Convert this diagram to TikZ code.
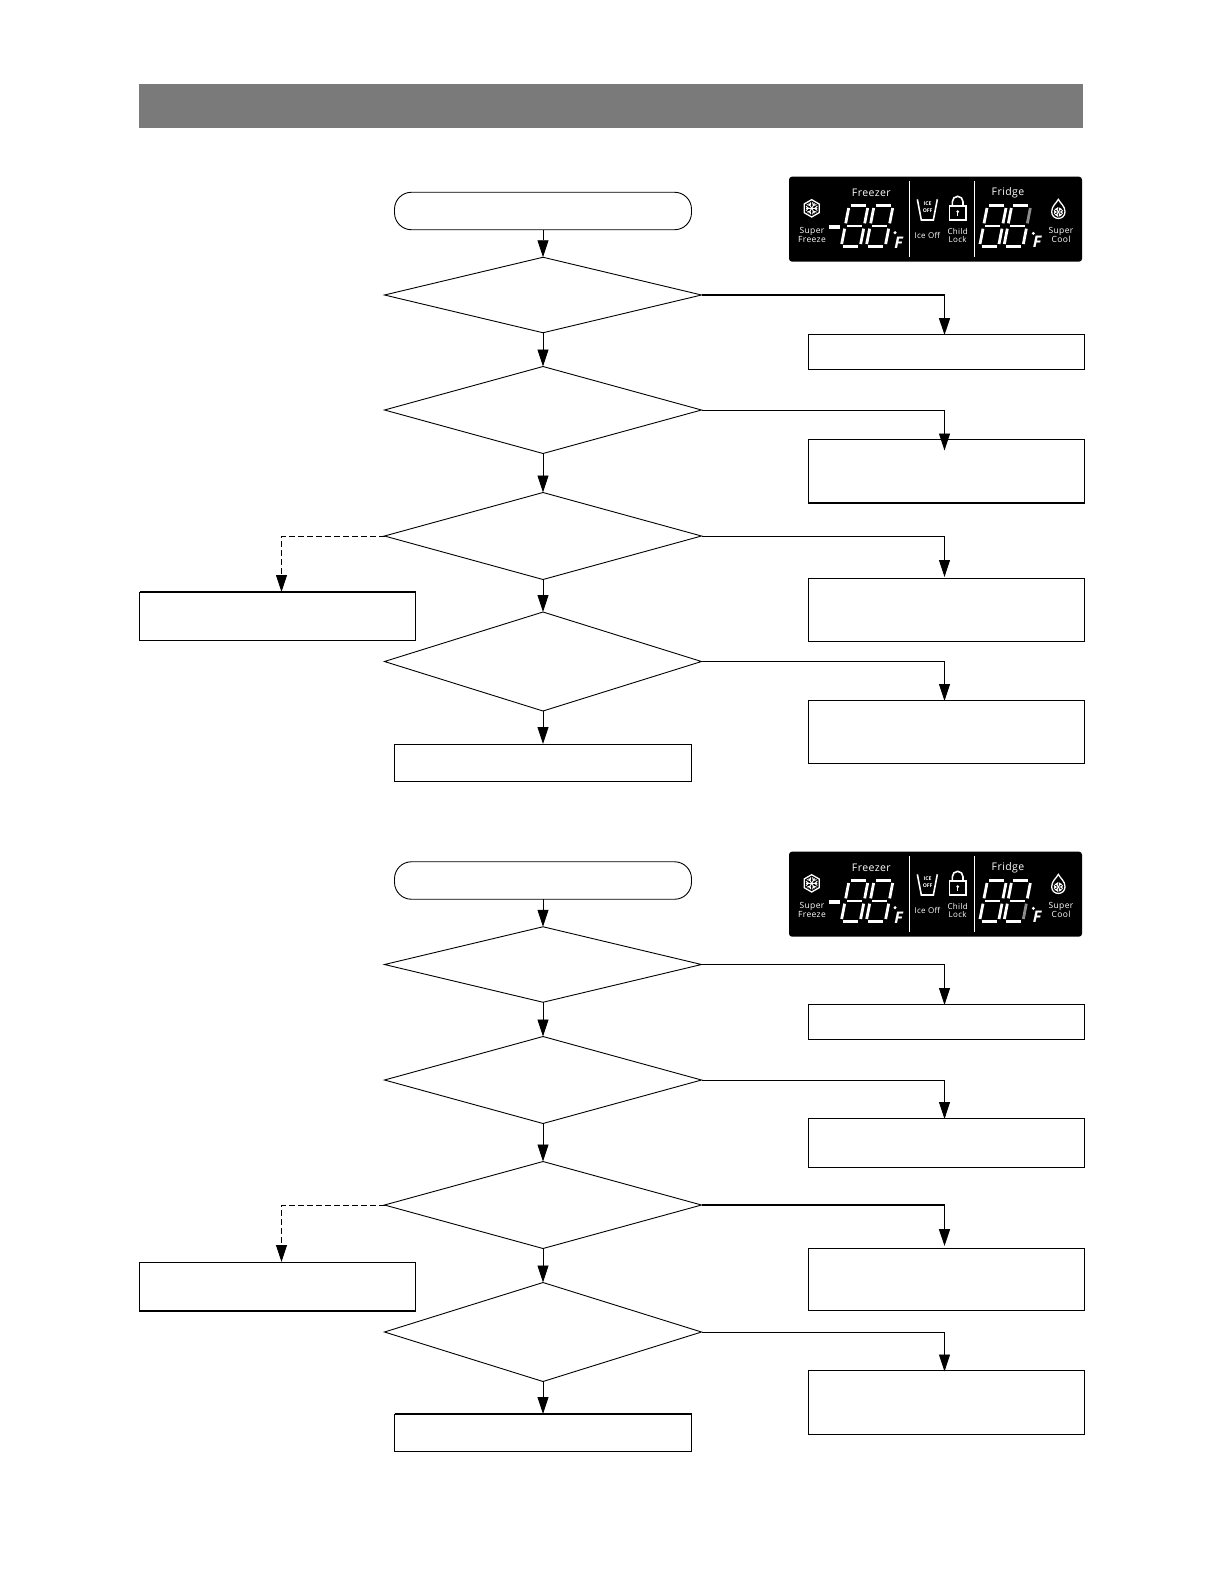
\documentclass[tikz,border=0pt]{standalone}
\usepackage{fontspec}
\setmainfont{Open Sans}
\newfontfamily\panelfont[LetterSpace=4]{Open Sans}
\usetikzlibrary{arrows.meta,shapes.geometric}
\tikzset{
  line/.style={draw=black,line width=0.9pt},
  flow/.style={line,-{Triangle[length=17pt,width=11pt]}},
  flowdash/.style={flow,dash pattern=on 6pt off 3pt},
  heavy/.style={line width=1.5pt},
  dec/.style={diamond,line,inner sep=0pt,outer sep=0pt,minimum width=317pt},
  res/.style={rectangle,line,inner sep=0pt,outer sep=0pt},
  term/.style={rectangle,rounded corners=17pt,line,inner sep=0pt,outer sep=0pt,minimum width=297pt,minimum height=37.5pt},
  seg/.style={line width=2.8pt,white},
  ptxt/.style={text=white,inner sep=0pt,align=center},
  icon/.style={draw=white,line width=1.3pt},
}
\definecolor{headgray}{HTML}{7A7A7A}
\definecolor{seggray}{HTML}{8C8C8C}
\newcommand\sevendig[3]{%
  \draw[seg] (#1+5,230)--(#1+50,230);
  \draw[seg] (#1+16,168)--(#1+61,168);
  \draw[seg] (#1+27,107)--(#1+72,107);
  \draw[seg] (#1+0,222)--(#1+9,176);
  \draw[seg] (#1+12,160)--(#1+21,114);
  \draw[seg,draw=#3] (#1+57,222)--(#1+66,176);
  \draw[seg,draw=#2] (#1+69,160)--(#1+78,114);
}
\newcommand\flakeat[3]{%
  \foreach \a in {0,60,...,300}{
    \draw[icon,line width=0.9pt,shift={(#1,#2)},rotate=\a] (0,0)--(#3,0) (#3*0.55,0)--(#3,#3*0.4) (#3*0.55,0)--(#3,-#3*0.4);
  }%
}
\newcommand\panelat[4]{%
  \begin{scope}[shift={(780,#1)},scale=1/3]
    \fill[black,rounded corners=3pt] (27,20) rectangle (906,275);
    \draw[white,line width=1pt] (388,33)--(388,260) (583,33)--(583,260);
    \node[ptxt,font=\panelfont\fontsize{10.5}{12}\selectfont] (#4fz) at (274,68) {Freezer};
    \node[ptxt,font=\panelfont\fontsize{10.5}{12}\selectfont] (#4fr) at (684,68) {Fridge};
    \node[ptxt,font=\panelfont\fontsize{8.5}{9.2}\selectfont] (#4sf) at (96,194) {Super\\Freeze};
    \node[ptxt,font=\panelfont\fontsize{8}{8}\selectfont] (#4io) at (442,197) {Ice Off};
    \node[ptxt,font=\panelfont\fontsize{8}{8.5}\selectfont] (#4cl) at (533,197) {Child\\Lock};
    \node[ptxt,font=\panelfont\fontsize{8.5}{9.2}\selectfont] (#4sc) at (843,194) {Super\\Cool};
    \node[ptxt,font=\fontsize{5.2}{7.5}\selectfont\bfseries] (#4ic) at (443,112) {ICE\\OFF};
    \node[ptxt,font=\fontsize{16}{16}\selectfont\bfseries\itshape] (#4f1) at (356,219) {F};
    \node[ptxt,font=\fontsize{16}{16}\selectfont\bfseries\itshape] (#4f2) at (771,216) {F};
    \fill[white] (148,166) rectangle (180,178);
    \fill[white] (345,188) circle (5);
    \fill[white] (760,190) circle (5);
    \sevendig{185}{white}{white}
    \sevendig{260}{white}{white}
    \sevendig{600}{white}{white}
    \sevendig{673}{#2}{#3}
    \draw[icon] (95,115) ++(90:26) -- ++(-30:26) -- ++(-90:26) -- ++(-150:26) -- ++(150:26) -- ++(90:26) -- cycle;
    \flakeat{95}{115}{17}
    \draw[icon] (835,88) .. controls (829,100) and (815,108) .. (815,125) .. controls (815,152) and (855,152) .. (855,125) .. controls (855,108) and (841,100) .. (835,88) -- cycle;
    \flakeat{835}{126}{13}
    \draw[icon,line width=1.6pt] (412,88)--(424,150)--(460,150)--(472,88);
    \draw[icon,line width=1.6pt] (508,108) rectangle (558,150);
    \draw[icon,line width=1.6pt] (517,108) -- (517,95) arc[start angle=180,end angle=0,x radius=16,y radius=-16] -- (549,108);
    \fill[white] (533,125) circle (4.5);
    \fill[white] (531,125) rectangle (535,137);
  \end{scope}%
}
\begin{document}
\begin{tikzpicture}[x=1pt,y=-1pt]
\useasboundingbox (0,0) rectangle (1224,1584);
\fill[white] (0,0) rectangle (1224,1584);
\fill[headgray] (139,84) rectangle (1083,128);
\panelat{170}{seggray}{white}{a}
\panelat{845}{white}{seggray}{b}

% ---- upper chart
\node[term] (s1) at (543,211) {};
\node[dec,minimum height=75.5pt] (a1) at (543,295) {};
\node[dec,minimum height=87pt] (a2) at (543,410) {};
\node[dec,minimum height=87pt] (a3) at (543,536) {};
\node[dec,minimum height=99pt] (a4) at (543,661.5) {};
\node[res,minimum width=276pt,minimum height=35.5pt] (ar1) at (946.5,352) {};
\node[res,minimum width=276pt,minimum height=64pt] (ar2) at (946.5,471) {};
\node[res,minimum width=276pt,minimum height=62.5pt] (ar3) at (946.5,610) {};
\node[res,minimum width=276pt,minimum height=63.5pt] (ar4) at (946.5,732) {};
\node[res,minimum width=276pt,minimum height=48pt] (al) at (277.5,616) {};
\node[res,minimum width=297pt,minimum height=37pt] (ae) at (543,762.5) {};
\coordinate (at1) at (944.5,335);
\coordinate (at2) at (944.5,450.5);
\coordinate (at3) at (944.5,577);
\coordinate (at4) at (944.5,701);
\coordinate (atl) at (281.5,592);
\draw[flow] (s1.south) -- (a1.north);
\draw[flow] (a1.south) -- (a2.north);
\draw[flow] (a2.south) -- (a3.north);
\draw[flow] (a3.south) -- (a4.north);
\draw[flow] (a4.south) -- (ae.north);
\draw[flow,heavy] (a1.east) -| (at1);
\draw[flow] (a2.east) -| (at2);
\draw[flow] (a3.east) -| (at3);
\draw[flow] (a4.east) -| (at4);
\draw[flowdash] (a3.west) -| (atl);
\draw[heavy] (ar2.south west) -- (ar2.south east);
\draw[heavy] (ar4.north west) -- (ar4.north east);
\draw[heavy] (al.north west) -- (al.north east);

% ---- lower chart
\node[term] (s2) at (543,880.5) {};
\node[dec,minimum height=75.5pt] (b1) at (543,964.5) {};
\node[dec,minimum height=87pt] (b2) at (543,1080) {};
\node[dec,minimum height=87pt] (b3) at (543,1205) {};
\node[dec,minimum height=99pt] (b4) at (543,1332) {};
\node[res,minimum width=276pt,minimum height=35pt] (br1) at (946.5,1021.5) {};
\node[res,minimum width=276pt,minimum height=49.5pt] (br2) at (946.5,1143) {};
\node[res,minimum width=276pt,minimum height=62.5pt] (br3) at (946.5,1279.5) {};
\node[res,minimum width=276pt,minimum height=63.5pt] (br4) at (946.5,1402.5) {};
\node[res,minimum width=276pt,minimum height=49pt] (bl) at (277.5,1286.5) {};
\node[res,minimum width=297pt,minimum height=37pt] (be) at (543,1432.5) {};
\coordinate (bt1) at (944.5,1005);
\coordinate (bt2) at (944.5,1119);
\coordinate (bt3) at (944.5,1246);
\coordinate (bt4) at (944.5,1371.5);
\coordinate (btl) at (281.5,1262);
\draw[flow] (s2.south) -- (b1.north);
\draw[flow] (b1.south) -- (b2.north);
\draw[flow] (b2.south) -- (b3.north);
\draw[flow] (b3.south) -- (b4.north);
\draw[flow] (b4.south) -- (be.north);
\draw[flow] (b1.east) -| (bt1);
\draw[flow] (b2.east) -| (bt2);
\draw[flow,heavy] (b3.east) -| (bt3);
\draw[flow] (b4.east) -| (bt4);
\draw[flowdash] (b3.west) -| (btl);
\draw[heavy] (br4.south west) -- (br4.south east);
\draw[heavy] (bl.south west) -- (bl.south east);
\draw[heavy] (be.north west) -- (be.north east);
\end{tikzpicture}
\end{document}
